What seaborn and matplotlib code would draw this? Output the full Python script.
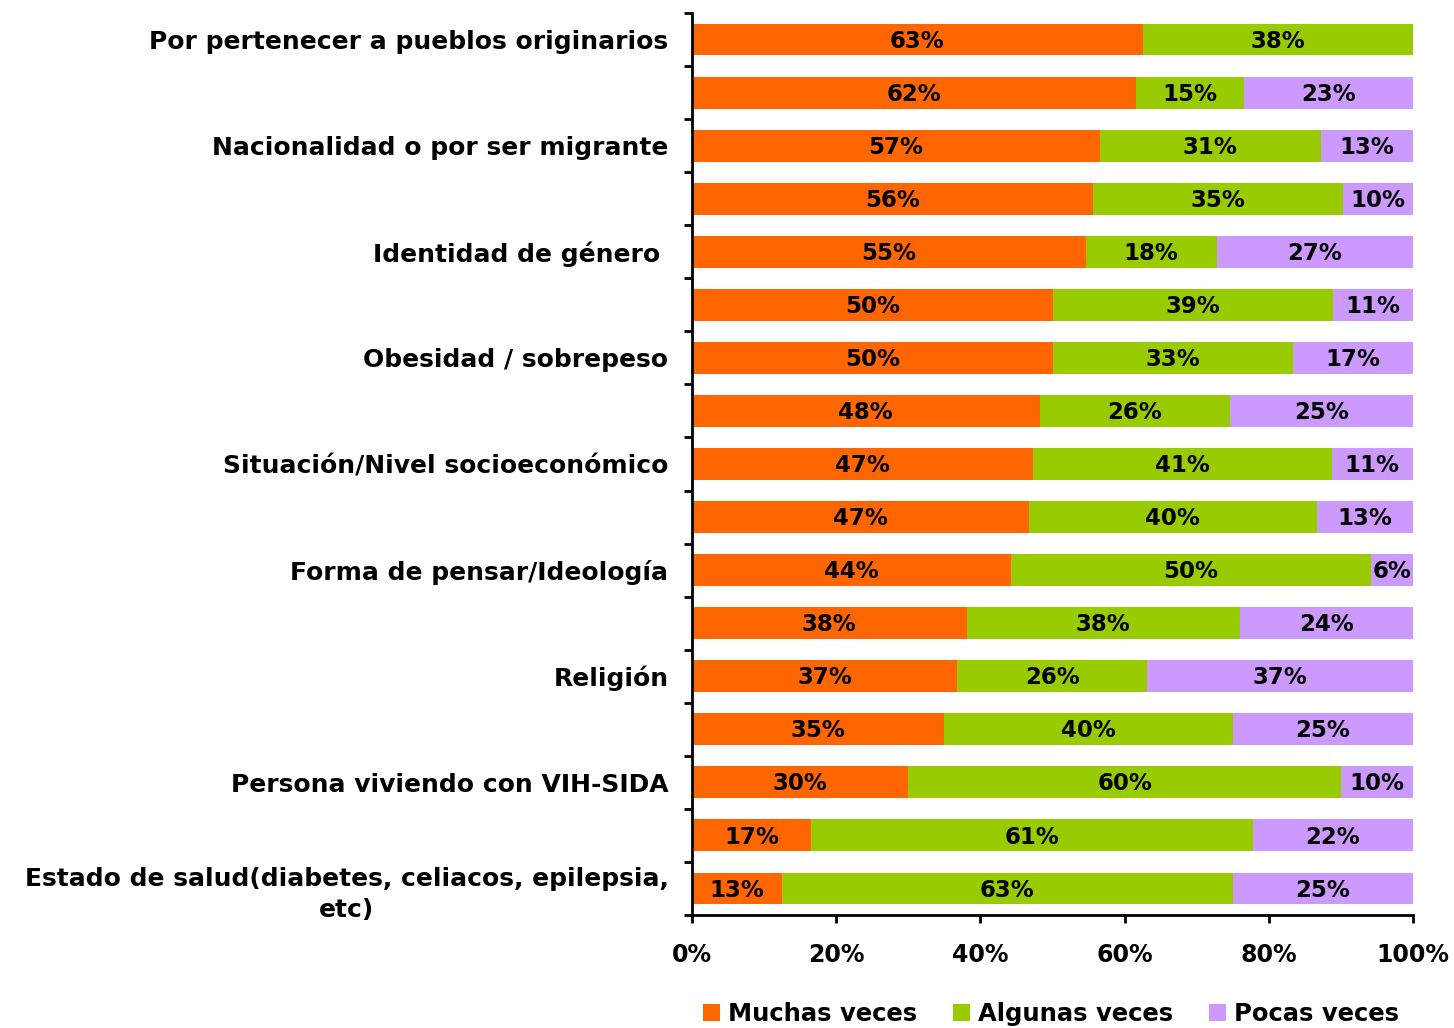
import numpy as np
import pandas as pd
import matplotlib
matplotlib.use("Agg")
import matplotlib.pyplot as plt
import seaborn as sns
from matplotlib.patches import Patch
import math

categories = [
    "Por pertenecer a pueblos originarios", "",
    "Nacionalidad o por ser migrante", "",
    "Identidad de género ", "",
    "Obesidad / sobrepeso", "",
    "Situación/Nivel socioeconómico", "",
    "Forma de pensar/Ideología", "",
    "Religión", "",
    "Persona viviendo con VIH-SIDA", "",
    "Estado de salud(diabetes, celiacos, epilepsia,\netc)",
]
muchas = [62.5, 61.6, 56.6, 55.6, 54.6, 50.0, 50.0, 48.2, 47.3, 46.7, 44.2, 38.1, 36.8, 35.0, 30.0, 16.5, 12.5]
algunas = [37.5, 15.0, 30.6, 34.7, 18.2, 38.9, 33.3, 26.4, 41.4, 40.0, 50.0, 37.9, 26.3, 40.0, 60.0, 61.3, 62.5]
pocas = [0.0, 23.4, 12.8, 9.7, 27.2, 11.1, 16.7, 25.4, 11.3, 13.3, 5.8, 24.0, 36.9, 25.0, 10.0, 22.2, 25.0]
series_names = ["Muchas veces", "Algunas veces", "Pocas veces"]
xticks = [0, 20, 40, 60, 80, 100]

colors = ["#FF6600", "#99CC00", "#CC99FF"]

sns.set_theme(style="white")
FONT = ["DejaVu Sans"]
plt.rcParams["font.family"] = FONT
plt.rcParams["font.weight"] = "bold"
for k in ["text.color", "axes.labelcolor", "xtick.color", "ytick.color", "axes.edgecolor"]:
    plt.rcParams[k] = "black"

n = len(categories)
df = pd.DataFrame({
    "pos": np.arange(n),
    "m": muchas,
    "a": algunas,
    "p": pocas,
})
df["ma"] = df["m"] + df["a"]
df["map"] = df["ma"] + df["p"]

fig = plt.figure(figsize=(14.54, 10.28), dpi=100)
ax = fig.add_axes([692 / 1454, 1 - 915 / 1028, 721 / 1454, (915 - 13) / 1028])

bw = 0.6
sns.barplot(data=df, x="map", y="pos", orient="h", color=colors[2], width=bw,
            saturation=1, ax=ax, linewidth=0, order=list(range(n)))
sns.barplot(data=df, x="ma", y="pos", orient="h", color=colors[1], width=bw,
            saturation=1, ax=ax, linewidth=0, order=list(range(n)))
sns.barplot(data=df, x="m", y="pos", orient="h", color=colors[0], width=bw,
            saturation=1, ax=ax, linewidth=0, order=list(range(n)))

def lbl(v):
    return f"{int(math.floor(v + 0.5))}%"

for i in range(n):
    segs = [(0, muchas[i]), (muchas[i], algunas[i]), (muchas[i] + algunas[i], pocas[i])]
    for left, w in segs:
        if w > 0:
            ax.text(left + w / 2, i + 0.03, lbl(w), ha="center", va="center",
                    fontsize=16.5, fontweight="bold", color="black")

ax.set_xlim(0, 100)
ax.set_ylim(n - 0.5, -0.5)
ax.set_xticks(xticks)
ax.set_xticklabels([f"{t}%" for t in xticks], fontsize=17, fontweight="bold")
ax.set_yticks(np.arange(-0.5, n, 1.0))
ax.set_yticklabels([])
ax.set_yticks(np.arange(n), minor=True)
ax.set_yticklabels(categories, minor=True, fontsize=18, fontweight="bold",
                   multialignment="center", linespacing=1.35)
ax.tick_params(axis="y", which="major", length=6, width=2, color="black", direction="out", left=True)
ax.tick_params(axis="y", which="minor", length=0, pad=17)
ax.tick_params(axis="x", length=6, width=2, color="black", direction="out", bottom=True, pad=14)
ax.set_xlabel("")
ax.set_ylabel("")
for s in ["top", "right"]:
    ax.spines[s].set_visible(False)
for s in ["left", "bottom"]:
    ax.spines[s].set_color("black")
    ax.spines[s].set_linewidth(2)

handles = [Patch(facecolor=c, edgecolor="none") for c in colors]
fig.legend(handles, series_names, loc="center", bbox_to_anchor=(1051 / 1454, 14 / 1028),
           ncol=3, frameon=False, handlelength=0.7, handleheight=0.7, handletextpad=0.3,
           columnspacing=1.5, prop={"size": 17.5, "weight": "bold"})

fig.savefig("out.png", dpi=100)
